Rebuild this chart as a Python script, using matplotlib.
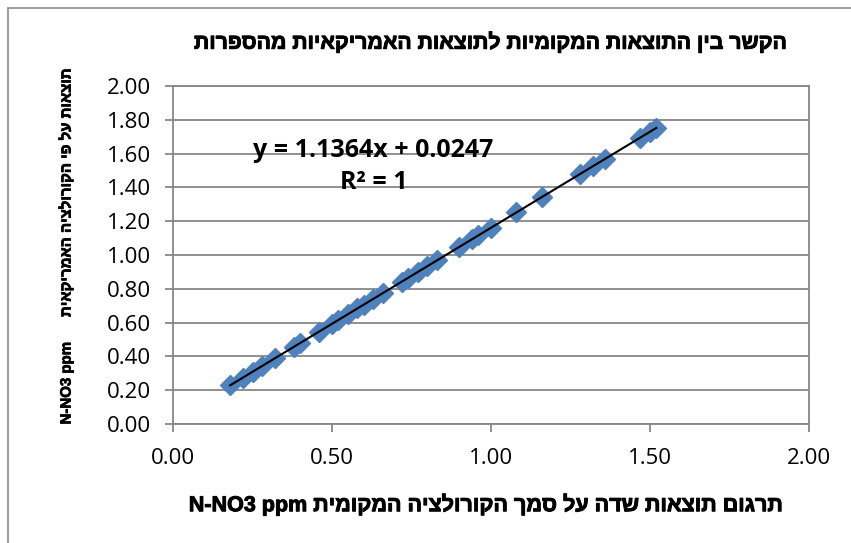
import numpy as np
import matplotlib.pyplot as plt
import matplotlib.patheffects as pe
from matplotlib.patches import Rectangle

# local correlation results (x) vs. american correlation results (y), N-NO3 ppm
local_ppm = [0.18, 0.22, 0.25, 0.28, 0.32, 0.38, 0.40, 0.46, 0.50, 0.52, 0.55,
             0.58, 0.60, 0.63, 0.66, 0.72, 0.74, 0.77, 0.80, 0.83, 0.90, 0.94,
             0.96, 1.00, 1.08, 1.16, 1.28, 1.32, 1.36, 1.47, 1.50, 1.52]
american_ppm = [0.229, 0.275, 0.309, 0.343, 0.388, 0.456, 0.479, 0.547, 0.593,
                0.616, 0.650, 0.684, 0.707, 0.741, 0.775, 0.843, 0.866, 0.900,
                0.934, 0.968, 1.047, 1.093, 1.116, 1.161, 1.252, 1.343, 1.479,
                1.525, 1.570, 1.695, 1.729, 1.752]

# linear trendline
slope, icept, r2 = 1.1364, 0.0247, 1

x_ticks = [0.0, 0.5, 1.0, 1.5, 2.0]
y_ticks = [0.0, 0.2, 0.4, 0.6, 0.8, 1.0, 1.2, 1.4, 1.6, 1.8, 2.0]

title_he = 'הקשר בין התוצאות המקומיות לתוצאות האמריקאיות מהספרות'
xlabel_he = 'תרגום תוצאות שדה על סמך הקורולציה המקומית'
ylabel_he = 'תוצאות על פי הקורולציה האמריקאית'
unit = 'N-NO3 ppm'


def rtl(s):
    # matplotlib has no bidi support, so lay Hebrew out in visual order
    return s[::-1]


HEB = ['Liberation Sans', 'DejaVu Sans']
NUM = ['Open Sans', 'DejaVu Sans']
GRID = '#878787'
# thicken the Hebrew strokes a little
heavy = [pe.withStroke(linewidth=0.7, foreground='black')]

W, H = 851, 543
fig = plt.figure(figsize=(W / 100, H / 100), dpi=100)
ax = fig.add_axes([173 / W, 1 - 424 / H, (809 - 173) / W, (424 - 86) / H])

xs = np.array([min(local_ppm), max(local_ppm)])

ax.plot(local_ppm, american_ppm, 'D', ms=10, color='#4F81BD', mec='#4F81BD',
        zorder=3)
ax.plot(xs, slope * xs + icept, color='black', lw=1.5, zorder=4)

ax.text(0.63, 1.525, f'y = {slope:.4f}x + {icept:.4f}\nR² = {r2}',
        ha='center', va='center', multialignment='center', linespacing=1.35,
        fontsize=18, fontweight='bold', family=NUM, zorder=5)

ax.set_xlim(0, 2)
ax.set_ylim(0, 2)
ax.set_xticks(x_ticks)
ax.set_yticks(y_ticks)
ax.set_xticklabels([f'{v:.2f}' for v in x_ticks], family=NUM, fontsize=16)
ax.set_yticklabels([f'{v:.2f}' for v in y_ticks], family=NUM, fontsize=16)
ax.tick_params(axis='y', length=6, width=1.3, color=GRID, pad=10)
ax.tick_params(axis='x', length=6, width=1.3, color=GRID, pad=11)
ax.grid(axis='y', color=GRID, lw=1.3)
ax.set_axisbelow(True)
for sp in ax.spines.values():
    sp.set_color(GRID)
    sp.set_linewidth(1.3)

fig.text(490 / W, 1 - 42 / H, rtl(title_he), ha='center', va='center',
         fontsize=15.3, fontweight='bold', family=HEB, path_effects=heavy)
fig.text(485 / W, 1 - 505 / H, unit + ' ' + rtl(xlabel_he), ha='center',
         va='center', fontsize=15.5, fontweight='bold', family=HEB,
         path_effects=heavy)
fig.text(66 / W, 1 - 247 / H, unit + '      ' + rtl(ylabel_he), ha='center',
         va='center', rotation=90, fontsize=10.8, fontweight='bold', family=HEB,
         path_effects=[pe.withStroke(linewidth=0.5, foreground='black')])

# chart area border
fig.add_artist(Rectangle((8 / W, -0.1), 1.2, 1.1 - 8 / H,
                         transform=fig.transFigure, fill=False,
                         ec='#8c8c8c', lw=1.2))

fig.savefig('out.png', dpi=100)
